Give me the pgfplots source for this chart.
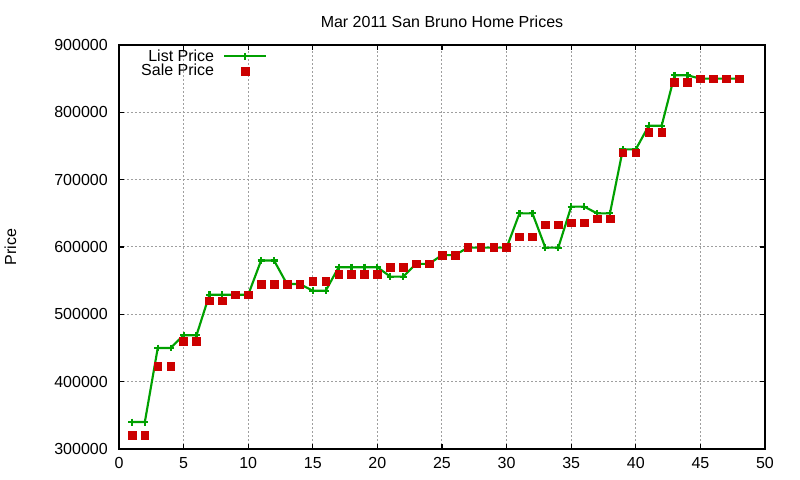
\documentclass[border=0pt]{standalone}
\usepackage{fontspec}
\setmainfont{Liberation Sans}
\usepackage{pgfplots}
\pgfplotsset{compat=1.18}

\definecolor{listgreen}{RGB}{0,160,0}
\definecolor{salered}{RGB}{204,0,0}

\pgfplotstableread{
n price
1 340000
2 340000
3 450000
4 450000
5 469000
6 469000
7 529000
8 529000
9 529000
10 529000
11 580000
12 580000
13 545000
14 545000
15 535000
16 535000
17 570000
18 570000
19 570000
20 570000
21 556000
22 556000
23 575000
24 575000
25 588000
26 588000
27 599000
28 599000
29 599000
30 599000
31 650000
32 650000
33 599000
34 599000
35 660000
36 660000
37 650000
38 650000
39 745000
40 745000
41 780000
42 780000
43 855000
44 855000
45 850000
46 850000
47 850000
48 850000
}\listprice

\pgfplotstableread{
n price
1 320000
2 320000
3 423000
4 423000
5 460000
6 460000
7 520000
8 520000
9 529000
10 529000
11 545000
12 545000
13 545000
14 545000
15 549000
16 549000
17 560000
18 560000
19 560000
20 560000
21 570000
22 570000
23 575000
24 575000
25 588000
26 588000
27 600000
28 600000
29 600000
30 600000
31 615000
32 615000
33 633000
34 633000
35 636000
36 636000
37 642000
38 642000
39 740000
40 740000
41 770000
42 770000
43 845000
44 845000
45 850000
46 850000
47 850000
48 850000
}\saleprice

\begin{document}
\begin{tikzpicture}[font=\fontsize{12}{14}\selectfont]
\begin{axis}[
    name=ax,
    scale only axis,
    width=484.5pt, height=303pt,
    xmin=0, xmax=50,
    ymin=300000, ymax=900000,
    xtick={0,5,10,15,20,25,30,35,40,45,50},
    ytick={300000,400000,500000,600000,700000,800000,900000},
    scaled y ticks=false,
    /pgf/number format/assume math mode=true,
    yticklabel style={/pgf/number format/fixed, /pgf/number format/1000 sep={},
        anchor=east, inner sep=0pt, xshift=-8.25pt},
    xticklabel style={anchor=north, inner sep=0pt, yshift=-5.8pt},
    axis line style={line width=0.9pt},
    every tick/.style={black, line width=0.9pt},
    major tick length=3.4pt,
    grid=major,
    major grid style={gray!75, line width=0.75pt, dash pattern=on 1.5pt off 1.5pt},
    title={Mar 2011 San Bruno Home Prices},
    title style={at={(rel axis cs:0.5,1.0237)}, anchor=base, inner sep=0pt},
    ylabel={Price},
    ylabel style={at={(rel axis cs:-0.168,0.5)}, anchor=center, inner sep=0pt},
    legend plot pos=right,
    legend cell align=right,
    legend style={at={(rel axis cs:0.2291,0.990)}, anchor=north east,
        draw=none, fill=none, inner sep=0pt, outer sep=0pt,
        row sep=0pt, column sep=6.75pt,
        nodes={inner sep=0pt, text height=9pt, text depth=2pt}},
]
\addplot[listgreen, line width=1.6pt, mark=+, mark size=2.6pt,
    legend image code/.code={\draw[mark repeat=2,mark phase=2]
        plot coordinates {(0cm,0cm) (0.55cm,0cm) (1.1cm,0cm)};}]
    table[x=n, y=price] {\listprice};
\addlegendentry{List Price}

\addplot[only marks, mark=square*, mark size=2.9pt, salered,
    mark options={draw=none, fill=salered},
    legend image code/.code={\path[draw=none] (0cm,0cm) -- (1.1cm,0cm);
        \path[draw=none] plot[only marks] coordinates {(0.55cm,0cm)};}]
    table[x=n, y=price] {\saleprice};
\addlegendentry{Sale Price}
\end{axis}
\path ([shift={(-89.25pt,-23.25pt)}]ax.south west)
    rectangle ([shift={(26.25pt,33.75pt)}]ax.north east);
\end{tikzpicture}
\end{document}
